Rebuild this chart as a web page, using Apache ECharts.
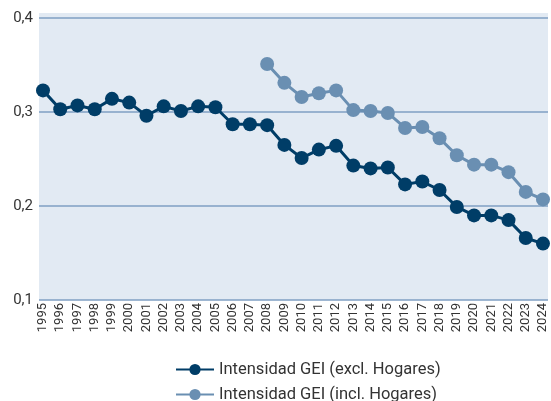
<!DOCTYPE html>
<html>
<head>
<meta charset="utf-8">
<script src="https://cdn.jsdelivr.net/npm/echarts@6/dist/echarts.min.js"></script>
<style>
    html, body { margin: 0; padding: 0; background: #fff; }
    #chart { width: 551px; height: 401px; }
</style>
</head>
<body>
<div id="chart"></div>
<script>
    var years = ['1995', '1996', '1997', '1998', '1999', '2000', '2001', '2002', '2003', '2004',
        '2005', '2006', '2007', '2008', '2009', '2010', '2011', '2012', '2013', '2014',
        '2015', '2016', '2017', '2018', '2019', '2020', '2021', '2022', '2023', '2024'];
    var exclHogares = [0.323, 0.303, 0.307, 0.303, 0.314, 0.310, 0.296, 0.306, 0.301, 0.306,
        0.305, 0.287, 0.287, 0.286, 0.265, 0.251, 0.260, 0.264, 0.243, 0.240,
        0.241, 0.223, 0.226, 0.217, 0.199, 0.190, 0.190, 0.185, 0.166, 0.160];
    var inclHogares = [null, null, null, null, null, null, null, null, null, null,
        null, null, null, 0.351, 0.331, 0.316, 0.320, 0.323, 0.302, 0.301,
        0.299, 0.283, 0.284, 0.272, 0.254, 0.244, 0.244, 0.236, 0.215, 0.207];
    var yTicks = [0.1, 0.2, 0.3, 0.4];

    var chart = echarts.init(document.getElementById('chart'));
    var font = 'Roboto, "Noto Sans", sans-serif';
    var legendText = { fontFamily: font, fontSize: 16.5, color: '#333' };
    chart.setOption({
        animation: false,
        legend: [
            {
                left: 170, top: 356, itemWidth: 38, itemHeight: 14,
                textStyle: legendText,
                data: ['Intensidad GEI (excl. Hogares)']
            },
            {
                left: 170, top: 381, itemWidth: 38, itemHeight: 14,
                textStyle: legendText,
                data: ['Intensidad GEI (incl. Hogares)']
            }
        ],
        grid: [
            { left: 39, right: 3, top: 13, height: 287, backgroundColor: '#e2eaf3', show: true, borderWidth: 0 },
            { left: 43, right: 8, top: 18, height: 282 }
        ],
        xAxis: [
            { type: 'category', gridIndex: 0, data: years, show: false },
            {
                type: 'category', gridIndex: 1, data: years, boundaryGap: false,
                axisLine: { show: false }, axisTick: { show: false },
                axisLabel: { rotate: 90, interval: 0, fontFamily: font, fontSize: 13, color: '#333', margin: 3 }
            }
        ],
        yAxis: [
            {
                type: 'value', gridIndex: 0, min: 0.1, max: 0.4 + 5 / 940, interval: 0.1,
                axisLine: { show: false }, axisTick: { show: false },
                axisLabel: {
                    showMaxLabel: false, fontFamily: font, fontSize: 15, color: '#333', margin: 6,
                    formatter: function (v) {
                        var hit = yTicks.filter(function (t) { return Math.abs(t - v) < 1e-6; });
                        return hit.length ? hit[0].toFixed(1).replace('.', ',') : '';
                    }
                },
                splitLine: { showMaxLine: false, lineStyle: { color: '#7f9fc3', width: 1.5 } }
            },
            { type: 'value', gridIndex: 1, min: 0.1, max: 0.4, show: false }
        ],
        series: [
            {
                name: 'Intensidad GEI (excl. Hogares)', type: 'line', xAxisIndex: 1, yAxisIndex: 1,
                data: exclHogares, symbol: 'circle', symbolSize: 14,
                itemStyle: { color: '#003d67' }, lineStyle: { color: '#003d67', width: 3 }, z: 3
            },
            {
                name: 'Intensidad GEI (incl. Hogares)', type: 'line', xAxisIndex: 1, yAxisIndex: 1,
                data: inclHogares, symbol: 'circle', symbolSize: 14,
                itemStyle: { color: '#6a8fb2' }, lineStyle: { color: '#6a8fb2', width: 3 }, z: 2
            }
        ]
    });
</script>
</body>
</html>
